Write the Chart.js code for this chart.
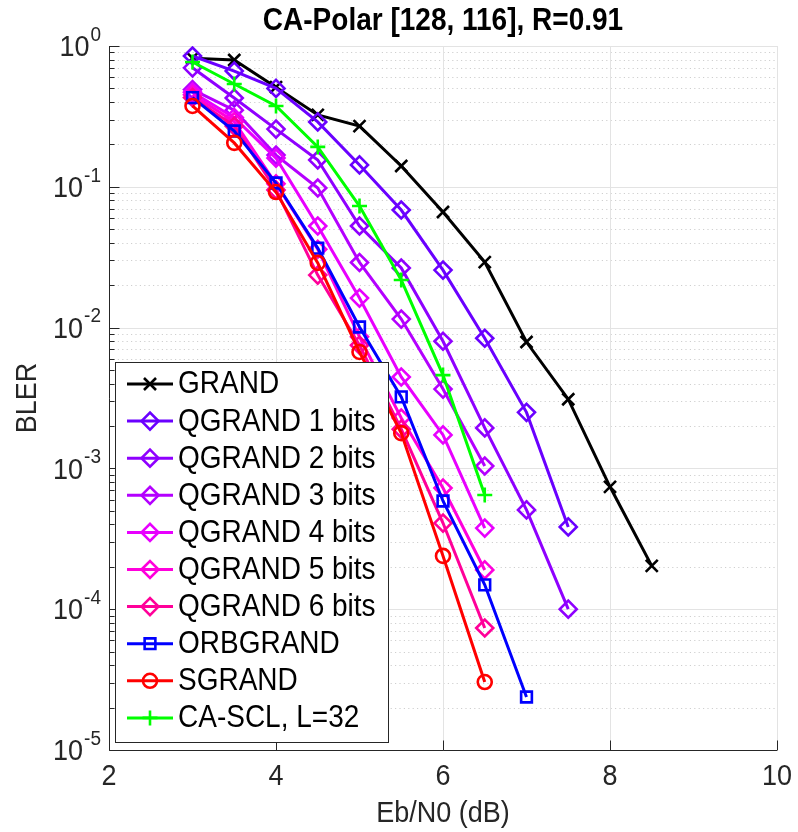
<!DOCTYPE html>
<html><head><meta charset="utf-8">
<script src="https://cdn.jsdelivr.net/npm/chart.js@4.4.1/dist/chart.umd.min.js"></script>
<style>html,body{margin:0;padding:0;background:#fff;}#wrap{width:798px;height:832px;}</style>
</head><body><div id="wrap"><canvas id="c" width="798" height="832"></canvas></div>
<script>
// ---------- data ----------
const titleText = 'CA-Polar [128, 116], R=0.91';
const xLabel = 'Eb/N0 (dB)';
const yLabel = 'BLER';
const xTicks = [2, 4, 6, 8, 10];
const yTickExps = [0, -1, -2, -3, -4, -5];

const seriesNames = ['GRAND', 'QGRAND 1 bits', 'QGRAND 2 bits', 'QGRAND 3 bits', 'QGRAND 4 bits',
  'QGRAND 5 bits', 'QGRAND 6 bits', 'ORBGRAND', 'SGRAND', 'CA-SCL, L=32'];

const xGrand = [3, 3.5, 4, 4.5, 5, 5.5, 6, 6.5, 7, 7.5, 8, 8.5];
const grand = [0.82, 0.795, 0.51, 0.324, 0.27, 0.1405, 0.0662, 0.0292, 0.0079, 0.0031, 7.4e-4, 2.03e-4];

const xQ12 = [3, 3.5, 4, 4.5, 5, 5.5, 6, 6.5, 7, 7.5];
const qgrand1 = [0.849, 0.664, 0.50, 0.289, 0.143, 0.0684, 0.0256, 0.0084, 0.0025, 3.84e-4];
const qgrand2 = [0.70, 0.427, 0.257, 0.155, 0.0527, 0.0265, 0.0080, 0.00194, 5.07e-4, 1.0e-4];

const xQ36 = [3, 3.5, 4, 4.5, 5, 5.5, 6, 6.5];
const qgrand3 = [0.49, 0.35, 0.168, 0.098, 0.029, 0.0115, 0.00366, 0.00104];
const qgrand4 = [0.47, 0.31, 0.16, 0.0527, 0.0162, 0.00446, 0.00173, 3.77e-4];
const qgrand5 = [0.45, 0.29, 0.105, 0.036, 0.0086, 0.00228, 7.26e-4, 1.9e-4];
const qgrand6 = [0.43, 0.27, 0.095, 0.0236, 0.0075, 0.0019, 4.09e-4, 7.35e-5];

const xOrb = [3, 3.5, 4, 4.5, 5, 5.5, 6, 6.5, 7];
const orbgrand = [0.43, 0.249, 0.1064, 0.0367, 0.0101, 0.00322, 5.87e-4, 1.49e-4, 2.38e-5];

const xSg = [3, 3.5, 4, 4.5, 5, 5.5, 6, 6.5];
const sgrand = [0.375, 0.205, 0.0918, 0.0288, 0.00671, 0.00178, 2.39e-4, 3.04e-5];

const xScl = [3, 3.5, 4, 4.5, 5, 5.5, 6, 6.5];
const cascl = [0.77, 0.537, 0.375, 0.192, 0.073, 0.0218, 0.0046, 6.47e-4];

// ---------- styles ----------
const FONT = '"Liberation Sans", Arial, Helvetica, sans-serif';
const TXT = '#262626';
const VS = 1.1; // vertical text stretch
const colors = ['#000000', '#6A00FF', '#8F00FF', '#B400FF', '#E800FF', '#FF00DC', '#FF0099', '#0000FF', '#FF0000', '#00FF00'];
const styles = ['crossRot', 'rectRot', 'rectRot', 'rectRot', 'rectRot', 'rectRot', 'rectRot', 'rect', 'circle', 'cross'];
const radii = [8.5, 8.5, 8.5, 8.5, 8.5, 8.5, 8.5, 7.6, 7, 7.5];

const xs = [xGrand, xQ12, xQ12, xQ36, xQ36, xQ36, xQ36, xOrb, xSg, xScl];
const ys = [grand, qgrand1, qgrand2, qgrand3, qgrand4, qgrand5, qgrand6, orbgrand, sgrand, cascl];

const N = seriesNames.length;
const datasets = seriesNames.map((name, i) => ({
  label: name,
  data: xs[i].map((x, j) => ({ x: x, y: ys[i][j] })),
  borderColor: colors[i],
  backgroundColor: 'rgba(0,0,0,0)',
  borderWidth: 3,
  pointStyle: styles[i],
  pointRadius: radii[i],
  pointBorderWidth: 2.6,
  pointBorderColor: colors[i],
  pointBackgroundColor: 'rgba(0,0,0,0)',
  tension: 0,
  order: N - i
}));

function txt(ctx, s, x, y) {
  ctx.save();
  ctx.translate(x, y);
  ctx.scale(1, VS);
  ctx.fillText(s, 0, 0);
  ctx.restore();
}

const decor = {
  id: 'decor',
  beforeDatasetsDraw(chart) {
    const ctx = chart.ctx, a = chart.chartArea, sx = chart.scales.x, sy = chart.scales.y;
    ctx.save();
    ctx.strokeStyle = '#cfcfcf';
    ctx.lineWidth = 1;
    ctx.setLineDash([1.2, 3.2]);
    for (let e = -5; e < 0; e++) {
      for (let k = 2; k <= 9; k++) {
        const py = Math.round(sy.getPixelForValue(k * Math.pow(10, e))) + 0.5;
        ctx.beginPath(); ctx.moveTo(a.left, py); ctx.lineTo(a.right, py); ctx.stroke();
      }
    }
    ctx.setLineDash([]);
    ctx.strokeStyle = '#e3e3e3';
    yTickExps.forEach(e => {
      const py = Math.round(sy.getPixelForValue(Math.pow(10, e))) + 0.5;
      ctx.beginPath(); ctx.moveTo(a.left, py); ctx.lineTo(a.right, py); ctx.stroke();
    });
    xTicks.forEach(v => {
      const px = Math.round(sx.getPixelForValue(v)) + 0.5;
      ctx.beginPath(); ctx.moveTo(px, a.top); ctx.lineTo(px, a.bottom); ctx.stroke();
    });
    ctx.restore();
  },
  afterDatasetsDraw(chart) {
    const ctx = chart.ctx, a = chart.chartArea, sx = chart.scales.x, sy = chart.scales.y;
    ctx.save();
    ctx.strokeStyle = TXT; ctx.lineWidth = 1;
    const L = Math.round(a.left) + 0.5, B = Math.round(a.bottom) + 0.5;
    ctx.beginPath(); ctx.moveTo(L, a.top); ctx.lineTo(L, B); ctx.lineTo(a.right, B); ctx.stroke();
    for (let e = -5; e <= 0; e++) {
      const py = Math.round(sy.getPixelForValue(Math.pow(10, e))) + 0.5;
      ctx.beginPath(); ctx.moveTo(L, py); ctx.lineTo(L + 10, py); ctx.stroke();
      if (e < 0) for (let k = 2; k <= 9; k++) {
        const pm = Math.round(sy.getPixelForValue(k * Math.pow(10, e))) + 0.5;
        ctx.beginPath(); ctx.moveTo(L, pm); ctx.lineTo(L + 5, pm); ctx.stroke();
      }
    }
    xTicks.forEach(v => {
      const px = Math.round(sx.getPixelForValue(v)) + 0.5;
      ctx.beginPath(); ctx.moveTo(px, B); ctx.lineTo(px, B - 10); ctx.stroke();
    });
    // x tick labels
    ctx.fillStyle = TXT;
    ctx.font = '27px ' + FONT;
    ctx.textAlign = 'center'; ctx.textBaseline = 'middle';
    xTicks.forEach(v => txt(ctx, String(v), sx.getPixelForValue(v), 777));
    // y tick labels 10^e
    yTickExps.forEach(e => {
      const py = sy.getPixelForValue(Math.pow(10, e));
      const ex = String(e);
      ctx.font = '19px ' + FONT;
      const we = ctx.measureText(ex).width;
      ctx.font = '27px ' + FONT;
      const wb = ctx.measureText('10').width;
      const right = 101;
      ctx.textAlign = 'left';
      txt(ctx, '10', right - we - wb - 1, py + 2);
      ctx.font = '19px ' + FONT;
      txt(ctx, ex, right - we, py - 11);
    });
    // axis labels
    ctx.font = '27px ' + FONT;
    ctx.textAlign = 'center';
    txt(ctx, xLabel, (a.left + a.right) / 2, 814);
    ctx.save();
    ctx.translate(28, (a.top + a.bottom) / 2);
    ctx.rotate(-Math.PI / 2);
    ctx.scale(1, VS);
    ctx.fillText(yLabel, 0, 0);
    ctx.restore();
    // title
    ctx.fillStyle = '#000';
    ctx.font = 'bold 28px ' + FONT;
    txt(ctx, titleText, (a.left + a.right) / 2, 22);

    // legend
    const bx = 115.5, by = 362.5, bw = 273, bh = 380;
    ctx.fillStyle = '#fff';
    ctx.fillRect(bx, by, bw, bh);
    ctx.strokeStyle = TXT; ctx.lineWidth = 1;
    ctx.strokeRect(bx, by, bw, bh);
    chart.data.datasets.forEach((ds, i) => {
      const ry = 384 + i * 37.1;
      ctx.strokeStyle = ds.borderColor; ctx.lineWidth = 3;
      ctx.beginPath(); ctx.moveTo(127, ry); ctx.lineTo(173, ry); ctx.stroke();
      ctx.lineWidth = 2.6;
      ctx.fillStyle = 'rgba(0,0,0,0)';
      Chart.helpers.drawPoint(ctx, { pointStyle: ds.pointStyle, radius: ds.pointRadius, borderWidth: 2.6, rotation: 0 }, 150, ry);
      ctx.fillStyle = '#000';
      ctx.font = '28px ' + FONT;
      ctx.textAlign = 'left'; ctx.textBaseline = 'middle';
      txt(ctx, ds.label, 178, ry + 1);
    });
    ctx.restore();
  }
};

new Chart(document.getElementById('c'), {
  type: 'line',
  data: { datasets: datasets },
  options: {
    responsive: false,
    animation: false,
    devicePixelRatio: 1,
    layout: { padding: { top: 46, right: 21, left: 0, bottom: 0 } },
    scales: {
      x: { type: 'linear', min: 2, max: 10,
           ticks: { display: false }, grid: { display: false }, border: { display: false },
           afterFit(s) { s.height = 82; } },
      y: { type: 'logarithmic', min: 1e-5, max: 1,
           ticks: { display: false }, grid: { display: false }, border: { display: false },
           afterFit(s) { s.width = 109; } }
    },
    plugins: { legend: { display: false }, tooltip: { enabled: false }, title: { display: false } }
  },
  plugins: [decor]
});
</script></body></html>
